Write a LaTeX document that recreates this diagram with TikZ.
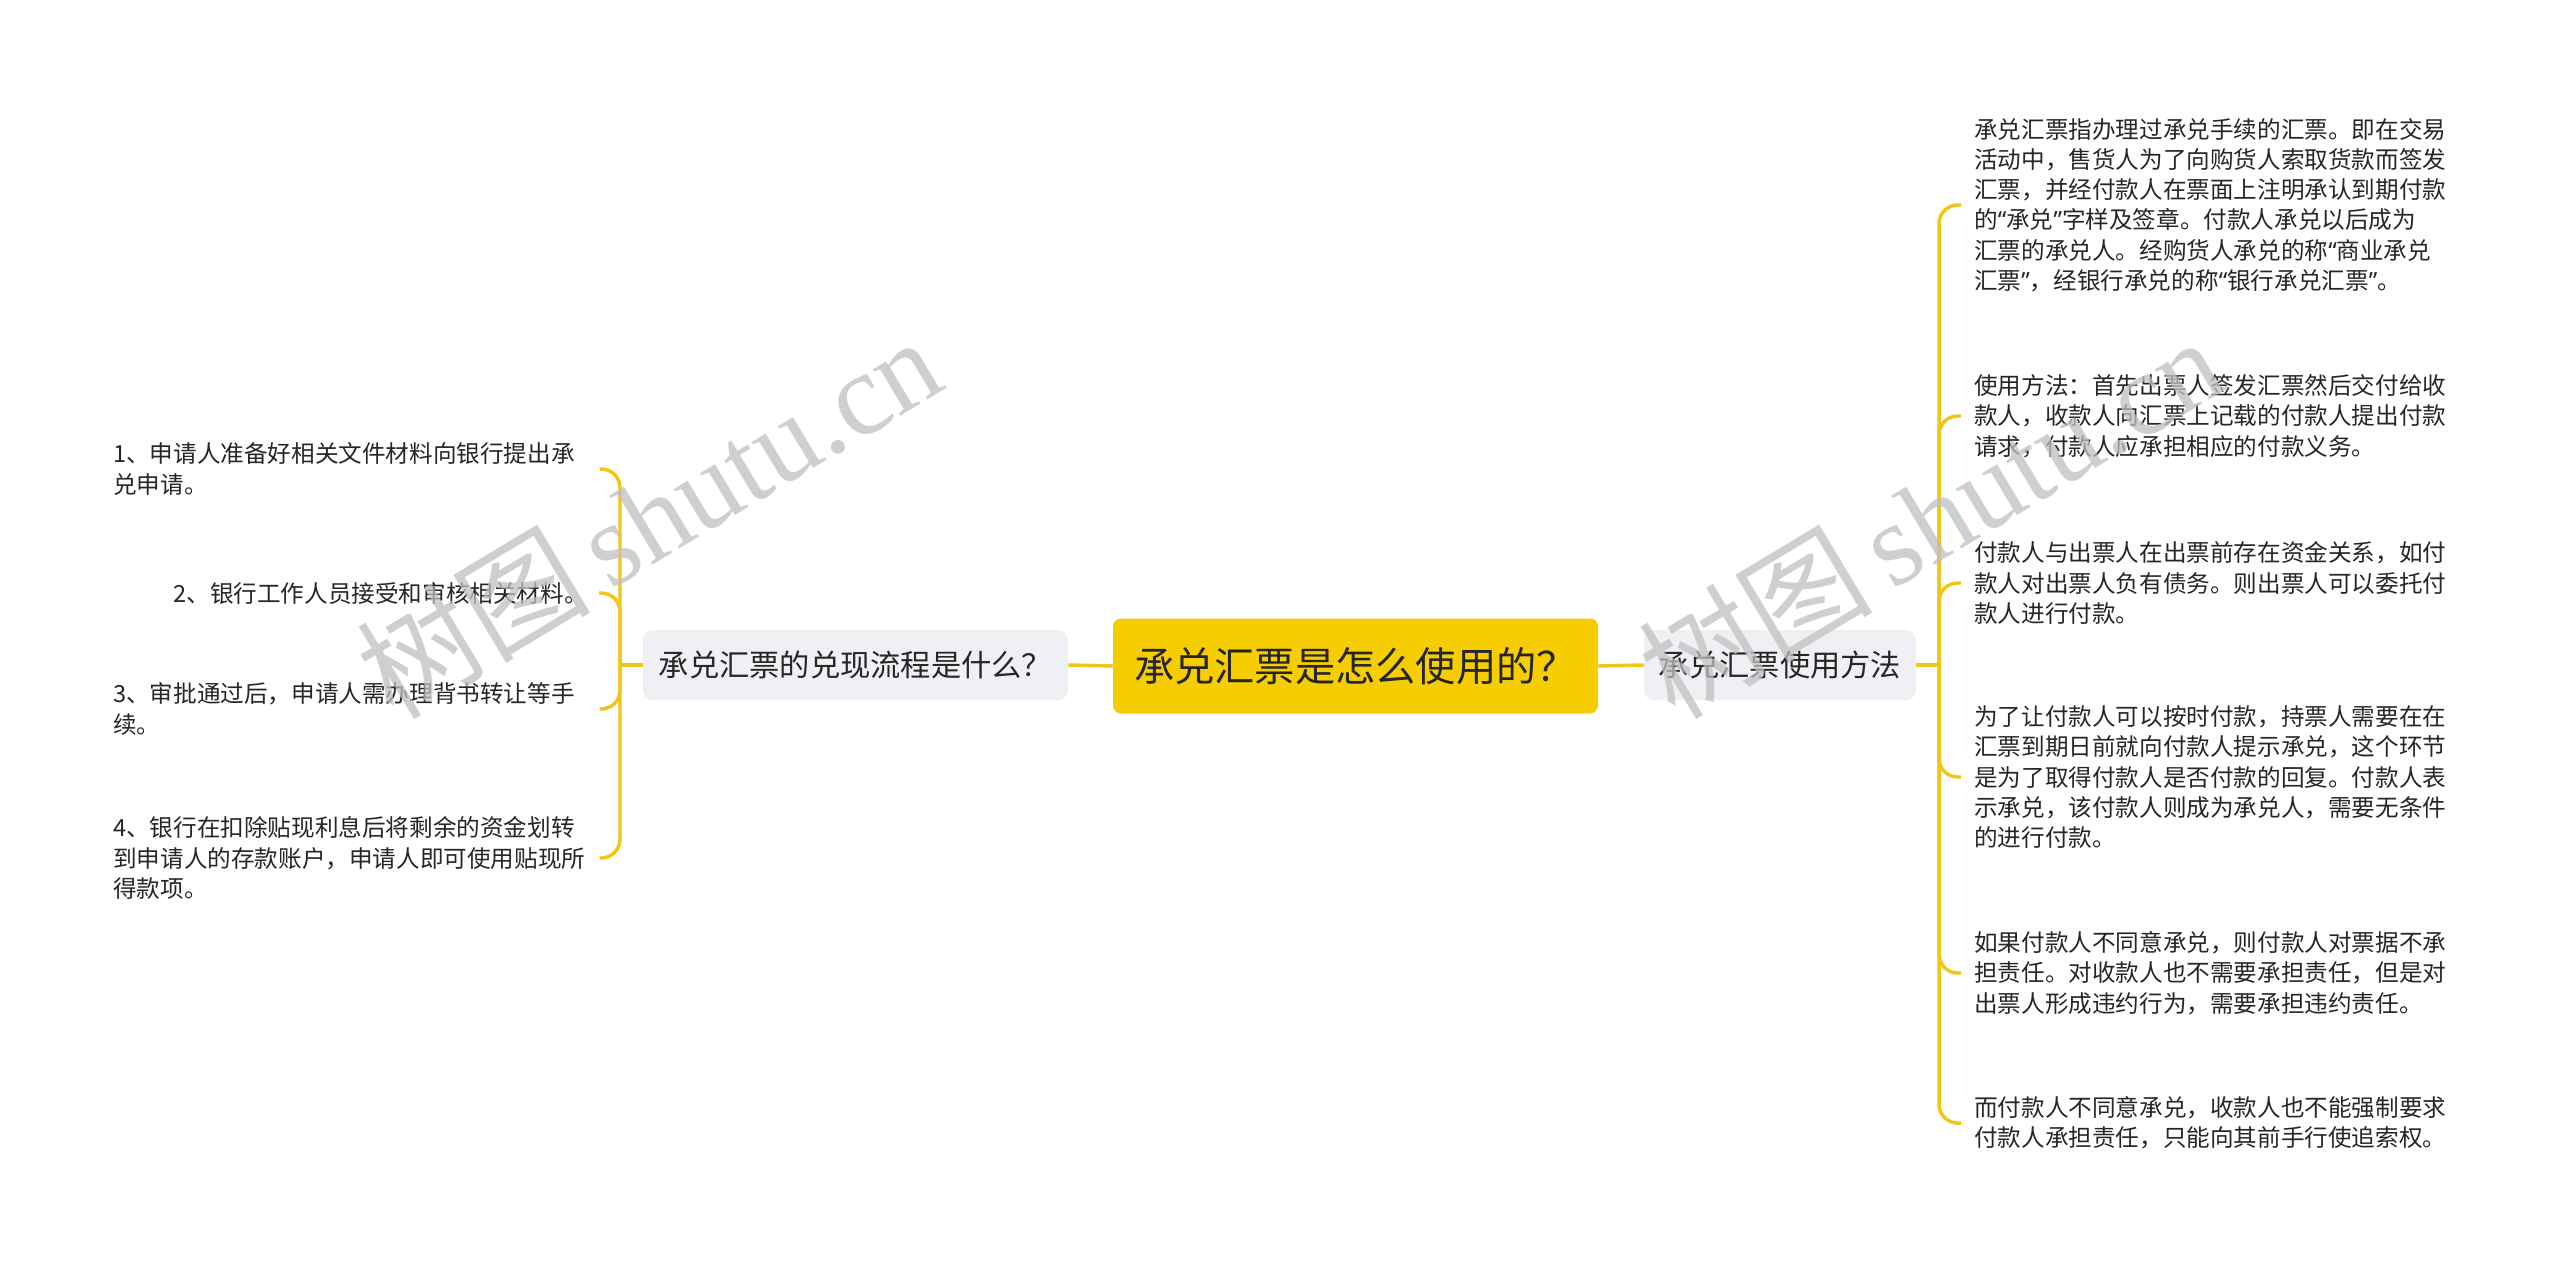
\documentclass[tikz,border=0pt]{standalone}
\usepackage{fontspec}
\setmainfont{Noto Sans CJK SC}
\newfontfamily\wmserif{Liberation Serif}
\newfontfamily\latinf{Noto Sans}
\newcommand\myqo{{\latinf “}}
\newcommand\myqc{{\latinf ”}}
\usetikzlibrary{calc}
\definecolor{lineY}{RGB}{241,198,22}
\definecolor{rootY}{RGB}{245,205,0}
\definecolor{subBG}{RGB}{238,240,244}
\definecolor{txt}{RGB}{38,38,38}
\definecolor{wm}{RGB}{192,192,192}
\begin{document}
\begin{tikzpicture}[x=0.75pt,y=-0.75pt,
  link/.style={draw=lineY, line width=2.6pt, rounded corners=14pt},
  rootbox/.style={fill=rootY, rounded corners=6pt, minimum width=363.75pt, minimum height=71.25pt, inner sep=0pt, font=\fontsize{30.2pt}{36pt}\selectfont, text=txt},
  subbox/.style={fill=subBG, rounded corners=7.5pt, minimum height=52.5pt, inner sep=0pt, font=\fontsize{22.7pt}{27pt}\selectfont, text=txt},
  leafL/.style={inner sep=0pt, text width=356.25pt, align=left, font=\fontsize{17.7pt}{22.7pt}\selectfont, text=txt},
  leafR/.style={inner sep=0pt, align=left, font=\fontsize{17.7pt}{22.7pt}\selectfont, text=txt},
  wmark/.style={text=wm, opacity=0.75, rotate=31, inner sep=0pt, font=\fontsize{88pt}{88pt}\selectfont}
]
\useasboundingbox (0,0) rectangle (2560,1268);
\fill[white] (0,0) rectangle (2560,1268);

% main nodes
\node[rootbox] (root) at (1355.5,666) {承兑汇票是怎么使用的？};
\node[subbox, minimum width=318.75pt] (lsub) at (855.5,665) {承兑汇票的兑现流程是什么？};
\node[subbox, minimum width=204pt] (rsub) at (1780,665) {承兑汇票使用方法};

% left leaves
\node[leafL, anchor=west] (l1) at (113,469) {1、申请人准备好相关文件材料向银行提出承\\兑申请。};
\node[leafL, anchor=east, align=right] (l2) at (588,593) {2、银行工作人员接受和审核相关材料。};
\node[leafL, anchor=west] (l3) at (113,709) {3、审批通过后，申请人需办理背书转让等手\\续。};
\node[leafL, anchor=west] (l4) at (113,858) {4、银行在扣除贴现利息后将剩余的资金划转\\到申请人的存款账户，申请人即可使用贴现所\\得款项。};

% right leaves
\node[leafR, anchor=west] (r1) at (1974,205) {承兑汇票指办理过承兑手续的汇票。即在交易\\活动中，售货人为了向购货人索取货款而签发\\汇票，并经付款人在票面上注明承认到期付款\\的\myqo 承兑\myqc 字样及签章。付款人承兑以后成为\\汇票的承兑人。经购货人承兑的称\myqo 商业承兑\\汇票\myqc ，经银行承兑的称\myqo 银行承兑汇票\myqc 。};
\node[leafR, anchor=west] (r2) at (1974,416) {使用方法：首先出票人签发汇票然后交付给收\\款人，收款人向汇票上记载的付款人提出付款\\请求，付款人应承担相应的付款义务。};
\node[leafR, anchor=west] (r3) at (1974,583) {付款人与出票人在出票前存在资金关系，如付\\款人对出票人负有债务。则出票人可以委托付\\款人进行付款。};
\node[leafR, anchor=west] (r4) at (1974,777) {为了让付款人可以按时付款，持票人需要在在\\汇票到期日前就向付款人提示承兑，这个环节\\是为了取得付款人是否付款的回复。付款人表\\示承兑，该付款人则成为承兑人，需要无条件\\的进行付款。};
\node[leafR, anchor=west] (r5) at (1974,973) {如果付款人不同意承兑，则付款人对票据不承\\担责任。对收款人也不需要承担责任，但是对\\出票人形成违约行为，需要承担违约责任。};
\node[leafR, anchor=west] (r6) at (1974,1123) {而付款人不同意承兑，收款人也不能强制要求\\付款人承担责任，只能向其前手行使追索权。};

% connectors
\coordinate (lj) at (620,665);
\coordinate (rj) at (1939,665);
\draw[link] (root.west) -- (lsub.east);
\draw[link] (root.east) -- (rsub.west);
\draw[link] (lsub.west) -- (lj);
\draw[link] (rsub.east) -- (rj);
\foreach \n in {l1,l2,l3,l4} \draw[link] (lj) |- ($(\n.east)+(11,0)$);
\foreach \n in {r1,r2,r3,r4,r5,r6} \draw[link] (rj) |- ($(\n.west)+(-13,0)$);

% watermarks
\node[wmark] (wm1) at (648,516) {树图\,{\wmserif shutu.cn}};
\node[wmark] (wm2) at (1930,516) {树图\,{\wmserif shutu.cn}};
\end{tikzpicture}
\end{document}
